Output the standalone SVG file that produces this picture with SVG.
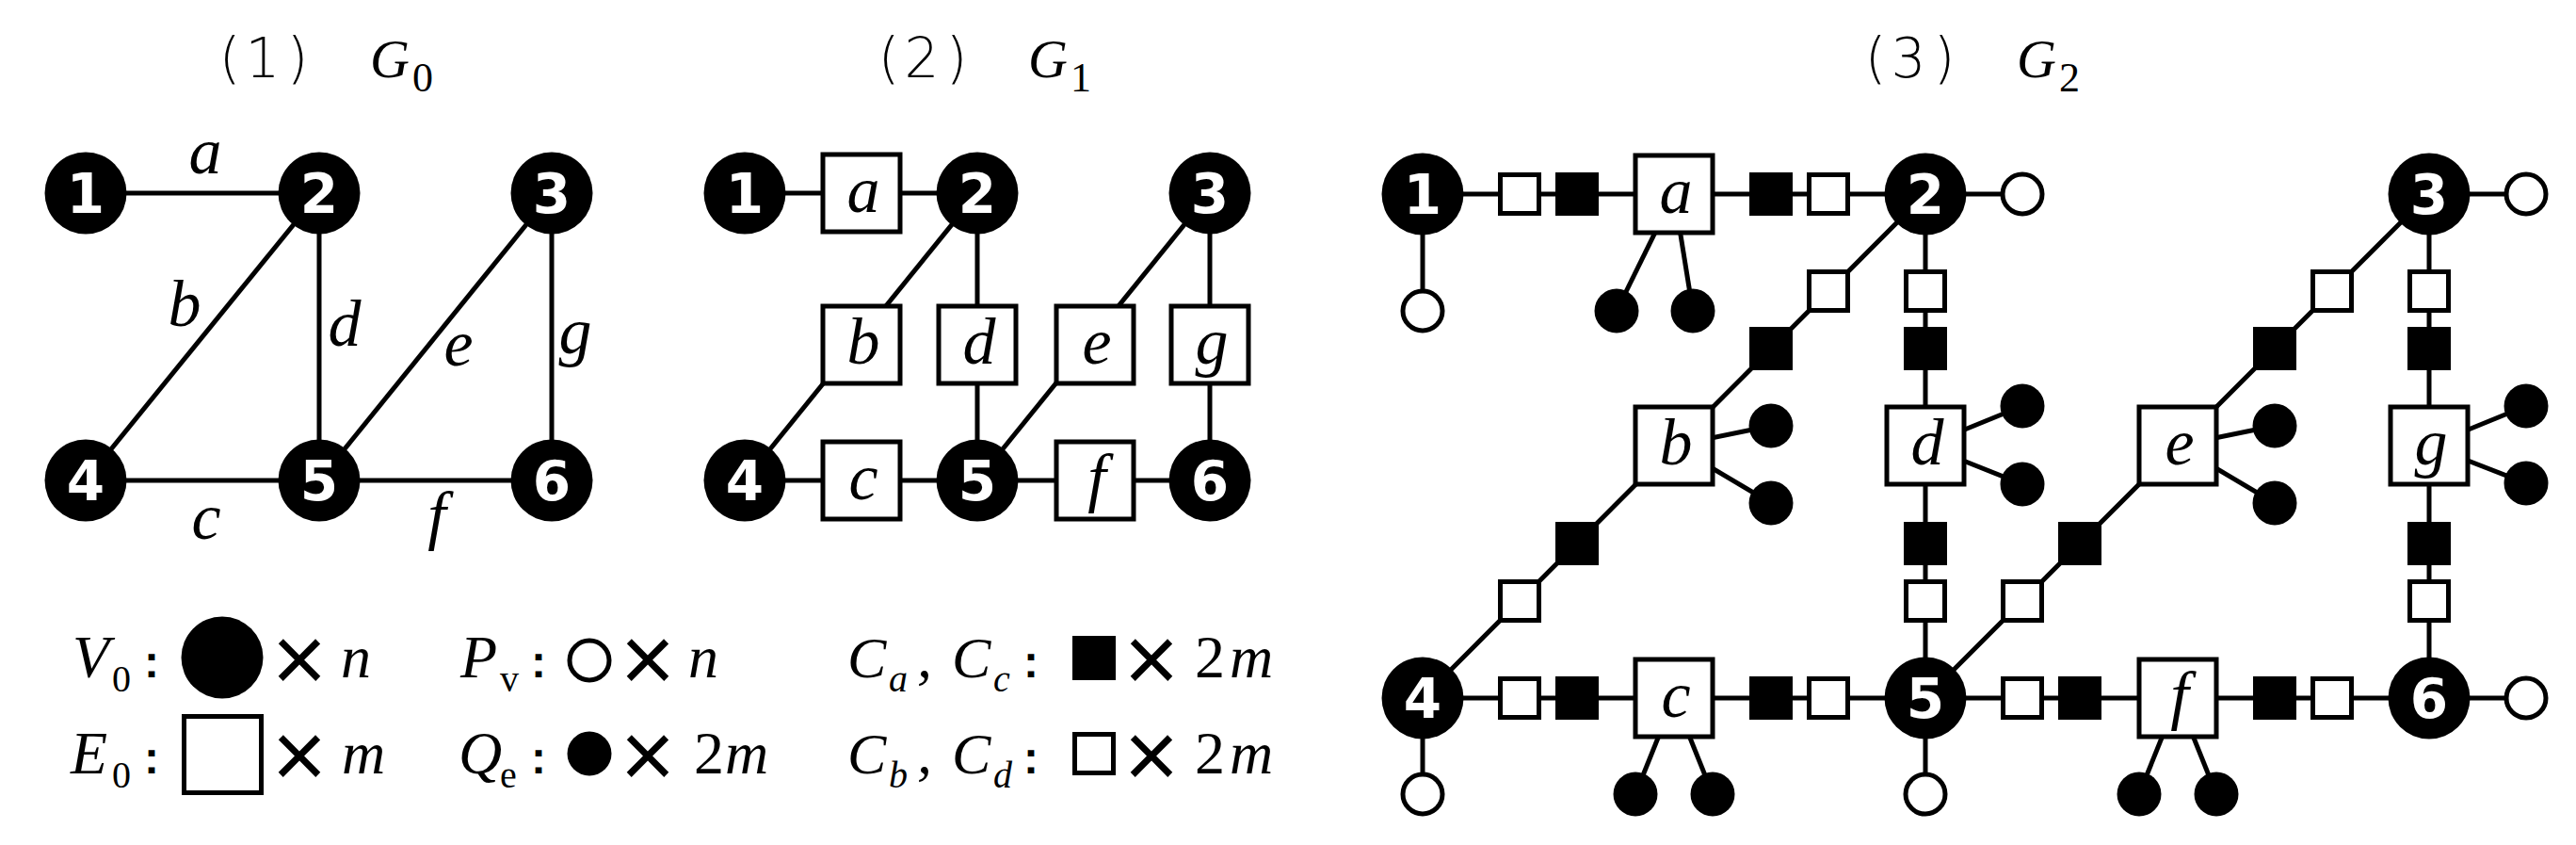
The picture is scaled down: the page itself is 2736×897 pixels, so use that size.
<svg xmlns="http://www.w3.org/2000/svg" width="2736" height="897" viewBox="0 0 2736 897">
<defs><style>
.ln{stroke:#000;stroke-width:5;fill:none}
.nd{fill:#000}
.nt{font-family:"DejaVu Sans",sans-serif;font-weight:bold;font-size:58px;fill:#fff;text-anchor:middle}
.bx{fill:#fff;stroke:#000;stroke-width:5}
.bt{font-family:"Liberation Serif",serif;font-style:italic;font-size:70px;text-anchor:middle}
.cw{fill:#fff;stroke:#000;stroke-width:5}
.cb{fill:#000;stroke:#000;stroke-width:5}
.pv{fill:#fff;stroke:#000;stroke-width:5}
.qe{fill:#000}
.tt{font-family:"DejaVu Sans",sans-serif;font-weight:200;font-size:58px;text-anchor:middle}
.ti{font-family:"Liberation Serif",serif;font-style:italic;font-size:58px}
.ts{font-family:"Liberation Serif",serif;font-size:44px}
.li{font-family:"Liberation Serif",serif;font-style:italic;font-size:64px}
.lc{font-family:"Liberation Serif",serif;font-style:italic;font-size:62px}
.lu{font-family:"Liberation Serif",serif;font-size:64px}
.ls{font-family:"Liberation Serif",serif;font-size:40px}
.lsi{font-family:"Liberation Serif",serif;font-style:italic;font-size:40px}
.co{font-family:"Liberation Sans",sans-serif;font-weight:bold;font-size:48px;text-anchor:middle}
.x{font-family:"Liberation Sans",sans-serif;font-size:100px;text-anchor:middle}
</style></defs>
<rect width="2736" height="897" fill="#fff"/>

<g id="titles">
<text class="tt" x="244 279 316" y="82">(1)</text><text class="ti" x="393" y="82">G</text><text class="ts" x="438" y="97">0</text>
<text class="tt" x="944 979 1016" y="82">(2)</text><text class="ti" x="1092" y="82">G</text><text class="ts" x="1137" y="97">1</text>
<text class="tt" x="1992 2027 2065" y="82">(3)</text><text class="ti" x="2142" y="82">G</text><text class="ts" x="2187" y="97">2</text>
</g>

<g id="connectors">
<line class="ln" x1="91" y1="205" x2="339" y2="205"/>
<line class="ln" x1="339" y1="205" x2="91" y2="510"/>
<line class="ln" x1="339" y1="205" x2="339" y2="510"/>
<line class="ln" x1="586" y1="205" x2="339" y2="510"/>
<line class="ln" x1="586" y1="205" x2="586" y2="510"/>
<line class="ln" x1="91" y1="510" x2="586" y2="510"/>
<line class="ln" x1="791" y1="205" x2="1038" y2="205"/>
<line class="ln" x1="1038" y1="205" x2="791" y2="510"/>
<line class="ln" x1="1038" y1="205" x2="1038" y2="510"/>
<line class="ln" x1="1285" y1="205" x2="1038" y2="510"/>
<line class="ln" x1="1285" y1="205" x2="1285" y2="510"/>
<line class="ln" x1="791" y1="510" x2="1285" y2="510"/>
<line class="ln" x1="1511" y1="206" x2="2045" y2="206"/>
<line class="ln" x1="2045" y1="206" x2="1511" y2="741"/>
<line class="ln" x1="2045" y1="206" x2="2045" y2="741"/>
<line class="ln" x1="2580" y1="206" x2="2045" y2="741"/>
<line class="ln" x1="2580" y1="206" x2="2580" y2="741"/>
<line class="ln" x1="1511" y1="741" x2="2580" y2="741"/>
<line class="ln" x1="1511" y1="206" x2="1511" y2="330"/>
<line class="ln" x1="2045" y1="206" x2="2148" y2="206"/>
<line class="ln" x1="2580" y1="206" x2="2683" y2="206"/>
<line class="ln" x1="1511" y1="741" x2="1511" y2="843"/>
<line class="ln" x1="2045" y1="741" x2="2045" y2="843"/>
<line class="ln" x1="2580" y1="741" x2="2683" y2="741"/>
<line class="ln" x1="1778" y1="206" x2="1717" y2="330"/>
<line class="ln" x1="1778" y1="206" x2="1798" y2="330"/>
<line class="ln" x1="1778" y1="473" x2="1881" y2="452"/>
<line class="ln" x1="1778" y1="473" x2="1881" y2="534"/>
<line class="ln" x1="1778" y1="741" x2="1737" y2="843"/>
<line class="ln" x1="1778" y1="741" x2="1819" y2="843"/>
<line class="ln" x1="2045" y1="473" x2="2148" y2="431"/>
<line class="ln" x1="2045" y1="473" x2="2148" y2="514"/>
<line class="ln" x1="2313" y1="473" x2="2416" y2="452"/>
<line class="ln" x1="2313" y1="473" x2="2416" y2="534"/>
<line class="ln" x1="2313" y1="741" x2="2272" y2="843"/>
<line class="ln" x1="2313" y1="741" x2="2354" y2="843"/>
<line class="ln" x1="2580" y1="473" x2="2683" y2="431"/>
<line class="ln" x1="2580" y1="473" x2="2683" y2="513"/>
</g>

<g id="p1-labels">
<text class="bt" x="218" y="184">a</text>
<text class="bt" x="196" y="346">b</text>
<text class="bt" x="366" y="367">d</text>
<text class="bt" x="487" y="388">e</text>
<text class="bt" x="611" y="375">g</text>
<text class="bt" x="219" y="572">c</text>
<text class="bt" x="464" y="570">f</text>
</g>
<g id="p1-n1"><circle class="nd" cx="91" cy="205" r="43.5"/><text class="nt" x="91" y="226">1</text></g>
<g id="p1-n2"><circle class="nd" cx="339" cy="205" r="43.5"/><text class="nt" x="339" y="226">2</text></g>
<g id="p1-n3"><circle class="nd" cx="586" cy="205" r="43.5"/><text class="nt" x="586" y="226">3</text></g>
<g id="p1-n4"><circle class="nd" cx="91" cy="510" r="43.5"/><text class="nt" x="91" y="531">4</text></g>
<g id="p1-n5"><circle class="nd" cx="339" cy="510" r="43.5"/><text class="nt" x="339" y="531">5</text></g>
<g id="p1-n6"><circle class="nd" cx="586" cy="510" r="43.5"/><text class="nt" x="586" y="531">6</text></g>

<g id="p2-n1"><circle class="nd" cx="791" cy="205" r="43.5"/><text class="nt" x="791" y="226">1</text></g>
<g id="p2-n2"><circle class="nd" cx="1038" cy="205" r="43.5"/><text class="nt" x="1038" y="226">2</text></g>
<g id="p2-n3"><circle class="nd" cx="1285" cy="205" r="43.5"/><text class="nt" x="1285" y="226">3</text></g>
<g id="p2-n4"><circle class="nd" cx="791" cy="510" r="43.5"/><text class="nt" x="791" y="531">4</text></g>
<g id="p2-n5"><circle class="nd" cx="1038" cy="510" r="43.5"/><text class="nt" x="1038" y="531">5</text></g>
<g id="p2-n6"><circle class="nd" cx="1285" cy="510" r="43.5"/><text class="nt" x="1285" y="531">6</text></g>
<g id="p2-a"><rect class="bx" x="874" y="164" width="82" height="82"/><text class="bt" x="917" y="225">a</text></g>
<g id="p2-b"><rect class="bx" x="874" y="325" width="82" height="82"/><text class="bt" x="917" y="386">b</text></g>
<g id="p2-d"><rect class="bx" x="997" y="325" width="82" height="82"/><text class="bt" x="1040" y="386">d</text></g>
<g id="p2-e"><rect class="bx" x="1122" y="325" width="82" height="82"/><text class="bt" x="1165" y="386">e</text></g>
<g id="p2-g"><rect class="bx" x="1244" y="325" width="82" height="82"/><text class="bt" x="1287" y="386">g</text></g>
<g id="p2-c"><rect class="bx" x="874" y="469" width="82" height="82"/><text class="bt" x="917" y="530">c</text></g>
<g id="p2-f"><rect class="bx" x="1122" y="469" width="82" height="82"/><text class="bt" x="1165" y="530">f</text></g>

<g id="p3-chain-a">
<rect class="cw" x="1593.5" y="185.5" width="41" height="41"/><rect class="cb" x="1654.5" y="185.5" width="41" height="41"/>
<rect class="cb" x="1860.5" y="185.5" width="41" height="41"/><rect class="cw" x="1921.5" y="185.5" width="41" height="41"/>
</g>
<g id="p3-chain-b">
<rect class="cw" x="1921.5" y="288.5" width="41" height="41"/><rect class="cb" x="1860.5" y="349.5" width="41" height="41"/>
<rect class="cb" x="1654.5" y="556.5" width="41" height="41"/><rect class="cw" x="1593.5" y="617.5" width="41" height="41"/>
</g>
<g id="p3-chain-c">
<rect class="cw" x="1593.5" y="720.5" width="41" height="41"/><rect class="cb" x="1654.5" y="720.5" width="41" height="41"/>
<rect class="cb" x="1860.5" y="720.5" width="41" height="41"/><rect class="cw" x="1921.5" y="720.5" width="41" height="41"/>
</g>
<g id="p3-chain-d">
<rect class="cw" x="2024.5" y="288.5" width="41" height="41"/><rect class="cb" x="2024.5" y="349.5" width="41" height="41"/>
<rect class="cb" x="2024.5" y="556.5" width="41" height="41"/><rect class="cw" x="2024.5" y="617.5" width="41" height="41"/>
</g>
<g id="p3-chain-e">
<rect class="cw" x="2456.5" y="288.5" width="41" height="41"/><rect class="cb" x="2395.5" y="349.5" width="41" height="41"/>
<rect class="cb" x="2188.5" y="556.5" width="41" height="41"/><rect class="cw" x="2127.5" y="617.5" width="41" height="41"/>
</g>
<g id="p3-chain-f">
<rect class="cw" x="2127.5" y="720.5" width="41" height="41"/><rect class="cb" x="2188.5" y="720.5" width="41" height="41"/>
<rect class="cb" x="2395.5" y="720.5" width="41" height="41"/><rect class="cw" x="2456.5" y="720.5" width="41" height="41"/>
</g>
<g id="p3-chain-g">
<rect class="cw" x="2559.5" y="288.5" width="41" height="41"/><rect class="cb" x="2559.5" y="349.5" width="41" height="41"/>
<rect class="cb" x="2559.5" y="556.5" width="41" height="41"/><rect class="cw" x="2559.5" y="617.5" width="41" height="41"/>
</g>

<g id="p3-n1"><circle class="nd" cx="1511" cy="206" r="43.5"/><text class="nt" x="1511" y="227">1</text><circle class="pv" cx="1511" cy="330" r="21"/></g>
<g id="p3-n2"><circle class="nd" cx="2045" cy="206" r="43.5"/><text class="nt" x="2045" y="227">2</text><circle class="pv" cx="2148" cy="206" r="21"/></g>
<g id="p3-n3"><circle class="nd" cx="2580" cy="206" r="43.5"/><text class="nt" x="2580" y="227">3</text><circle class="pv" cx="2683" cy="206" r="21"/></g>
<g id="p3-n4"><circle class="nd" cx="1511" cy="741" r="43.5"/><text class="nt" x="1511" y="762">4</text><circle class="pv" cx="1511" cy="843" r="21"/></g>
<g id="p3-n5"><circle class="nd" cx="2045" cy="741" r="43.5"/><text class="nt" x="2045" y="762">5</text><circle class="pv" cx="2045" cy="843" r="21"/></g>
<g id="p3-n6"><circle class="nd" cx="2580" cy="741" r="43.5"/><text class="nt" x="2580" y="762">6</text><circle class="pv" cx="2683" cy="741" r="21"/></g>

<g id="p3-a"><rect class="bx" x="1737" y="165" width="82" height="82"/><text class="bt" x="1780" y="226">a</text><circle class="qe" cx="1717" cy="330" r="23.5"/><circle class="qe" cx="1798" cy="330" r="23.5"/></g>
<g id="p3-b"><rect class="bx" x="1737" y="432" width="82" height="82"/><text class="bt" x="1780" y="493">b</text><circle class="qe" cx="1881" cy="452" r="23.5"/><circle class="qe" cx="1881" cy="534" r="23.5"/></g>
<g id="p3-c"><rect class="bx" x="1737" y="700" width="82" height="82"/><text class="bt" x="1780" y="761">c</text><circle class="qe" cx="1737" cy="843" r="23.5"/><circle class="qe" cx="1819" cy="843" r="23.5"/></g>
<g id="p3-d"><rect class="bx" x="2004" y="432" width="82" height="82"/><text class="bt" x="2047" y="493">d</text><circle class="qe" cx="2148" cy="431" r="23.5"/><circle class="qe" cx="2148" cy="514" r="23.5"/></g>
<g id="p3-e"><rect class="bx" x="2272" y="432" width="82" height="82"/><text class="bt" x="2315" y="493">e</text><circle class="qe" cx="2416" cy="452" r="23.5"/><circle class="qe" cx="2416" cy="534" r="23.5"/></g>
<g id="p3-f"><rect class="bx" x="2272" y="700" width="82" height="82"/><text class="bt" x="2315" y="761">f</text><circle class="qe" cx="2272" cy="843" r="23.5"/><circle class="qe" cx="2354" cy="843" r="23.5"/></g>
<g id="p3-g"><rect class="bx" x="2539" y="432" width="82" height="82"/><text class="bt" x="2582" y="493">g</text><circle class="qe" cx="2683" cy="431" r="23.5"/><circle class="qe" cx="2683" cy="513" r="23.5"/></g>

<g id="legend">
<text class="li" x="77" y="719">V</text><text class="ls" x="119" y="734">0</text><text class="co" x="161" y="719">:</text>
<circle class="nd" cx="236" cy="698" r="43.5"/><text class="x" x="318" y="734">×</text><text class="li" x="362" y="719">n</text>

<text class="li" x="75" y="821">E</text><text class="ls" x="119" y="836">0</text><text class="co" x="161" y="821">:</text>
<rect class="bx" x="195.5" y="760.5" width="82" height="81"/><text class="x" x="318" y="836">×</text><text class="li" x="363" y="821">m</text>

<text class="li" x="489" y="719">P</text><text class="ls" x="531" y="734">v</text><text class="co" x="572" y="719">:</text>
<circle class="pv" cx="626" cy="701" r="21"/><text class="x" x="688" y="734">×</text><text class="li" x="731" y="719">n</text>

<text class="li" x="487" y="821">Q</text><text class="ls" x="531" y="836">e</text><text class="co" x="572" y="821">:</text>
<circle class="qe" cx="626" cy="800" r="23.5"/><text class="x" x="688" y="836">×</text><text class="lu" x="737" y="821">2<tspan class="li" x="770">m</tspan></text>

<text class="lc" x="900" y="719">C</text><text class="lsi" x="944" y="734">a</text><text class="li" x="974" y="719">,</text>
<text class="lc" x="1011" y="719">C</text><text class="lsi" x="1055" y="734">c</text><text class="co" x="1095" y="719">:</text>
<rect class="nd" x="1139" y="675" width="46" height="47"/><text class="x" x="1223" y="734">×</text><text class="lu" x="1269" y="719">2<tspan class="li" x="1306">m</tspan></text>

<text class="lc" x="900" y="821">C</text><text class="lsi" x="944" y="836">b</text><text class="li" x="974" y="821">,</text>
<text class="lc" x="1011" y="821">C</text><text class="lsi" x="1055" y="836">d</text><text class="co" x="1095" y="821">:</text>
<rect class="cw" x="1141.5" y="779.5" width="41" height="41"/><text class="x" x="1223" y="836">×</text><text class="lu" x="1269" y="821">2<tspan class="li" x="1306">m</tspan></text>
</g>
</svg>
